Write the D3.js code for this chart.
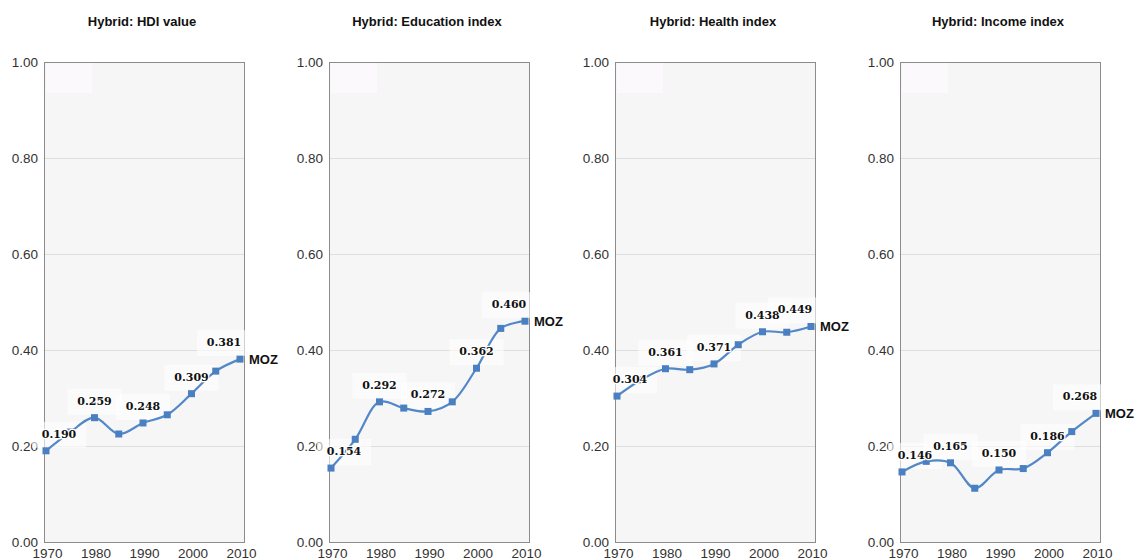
<!DOCTYPE html>
<html>
<head>
<meta charset="utf-8">
<script src="https://cdn.jsdelivr.net/npm/d3@7"></script>
<style>
  body { margin: 0; background: #fff; }
  svg { display: block; }
  .tick text { fill: #333; font-family: "Liberation Sans", Arial, sans-serif; }
</style>
</head>
<body>
<div id="chart"></div>
<script>
// values (every 5 years, 1970-2010)
var years = [1970, 1975, 1980, 1985, 1990, 1995, 2000, 2005, 2010]
var titles = ["Hybrid: HDI value", "Hybrid: Education index", "Hybrid: Health index", "Hybrid: Income index"]
var hdiValues = [0.190, 0.229, 0.259, 0.225, 0.248, 0.265, 0.309, 0.356, 0.381]
var educationValues = [0.154, 0.214, 0.292, 0.279, 0.272, 0.292, 0.362, 0.445, 0.460]
var healthValues = [0.304, 0.338, 0.361, 0.359, 0.371, 0.411, 0.438, 0.437, 0.449]
var incomeValues = [0.146, 0.168, 0.165, 0.112, 0.150, 0.153, 0.186, 0.230, 0.268]
var yTicks = [0, 0.2, 0.4, 0.6, 0.8, 1.0]
var xTicks = [1970, 1980, 1990, 2000, 2010]
var labelYears = [1970, 1980, 1990, 2000, 2010]
var country = "MOZ"

var series = [hdiValues, educationValues, healthValues, incomeValues]

var w = 1137, h = 560
var plotW = 200, plotTop = 62, plotBottom = 542
var firstLeft = 44, panelStep = 285.3

var svg = d3.select("#chart").append("svg")
    .attr("width", w)
    .attr("height", h)

var y = d3.scaleLinear().domain([0, 1]).range([plotBottom, plotTop])

series.forEach(function (values, i) {
    var left = Math.round(firstLeft + i * panelStep)
    var right = left + plotW
    var x = d3.scaleLinear().domain([1970, 2010]).range([left + 2, right - 4])
    var g = svg.append("g")

    //title
    g.append("text")
        .attr("x", left + plotW / 2 - 2)
        .attr("y", 26)
        .attr("text-anchor", "middle")
        .style("font-family", "Liberation Sans, Arial, sans-serif")
        .style("font-weight", "bold")
        .style("font-size", "13px")
        .style("fill", "#111")
        .text(titles[i])

    //plot background + border
    g.append("rect")
        .attr("x", left + 0.5)
        .attr("y", plotTop + 0.5)
        .attr("width", plotW)
        .attr("height", plotBottom - plotTop)
        .attr("fill", "#f6f6f6")
        .attr("stroke", "#8c8c8c")
        .attr("stroke-width", 1)

    //faint legend placeholder in the corner
    g.append("rect")
        .attr("x", left + 2)
        .attr("y", plotTop + 1)
        .attr("width", 46)
        .attr("height", 30)
        .attr("fill", "#fcf9fc")

    //grid lines
    g.selectAll("line.grid")
        .data(yTicks.slice(1, -1))
        .enter()
        .append("line")
        .attr("class", "grid")
        .attr("x1", left + 1)
        .attr("x2", right)
        .attr("y1", function (d) { return Math.round(y(d)) + 0.5 })
        .attr("y2", function (d) { return Math.round(y(d)) + 0.5 })
        .attr("stroke", "#dedede")
        .attr("stroke-width", 1)

    //y axis
    var yAxis = g.append("g")
        .attr("transform", "translate(" + (left - 6) + ",0)")
        .call(d3.axisLeft(y).tickValues(yTicks).tickSize(0).tickPadding(0).tickFormat(d3.format(".2f")))
    yAxis.select(".domain").remove()
    yAxis.selectAll("text").style("font-size", "13.5px")

    //x axis
    var xAxis = g.append("g")
        .attr("transform", "translate(1," + (plotBottom + 4) + ")")
        .call(d3.axisBottom(x).tickValues(xTicks).tickSize(0).tickPadding(2).tickFormat(d3.format("d")))
    xAxis.select(".domain").remove()
    xAxis.selectAll("text").style("font-size", "13.5px")

    var points = years.map(function (yr, j) { return { year: yr, value: values[j] } })

    //label placement, clamped inside the plot
    var tw = 34
    var labelPoints = points.filter(function (d) { return labelYears.indexOf(d.year) >= 0 })
    labelPoints.forEach(function (d) {
        var cx = x(d.year)
        cx = Math.max(cx, left - 2 + tw / 2)
        cx = Math.min(cx, right - 3 - tw / 2)
        d.lx = cx
        d.ly = y(d.value) - 13
    })

    //faint boxes behind the labels
    g.selectAll("rect.lbox")
        .data(labelPoints)
        .enter()
        .append("rect")
        .attr("class", "lbox")
        .attr("x", function (d) { return d.lx - tw / 2 - 10 })
        .attr("y", function (d) { return d.ly - 16 })
        .attr("width", tw + 20)
        .attr("height", 26)
        .attr("fill", "#ffffff")
        .attr("opacity", 0.6)

    //line
    var line = d3.line()
        .x(function (d) { return x(d.year) })
        .y(function (d) { return y(d.value) })
        .curve(d3.curveCatmullRom.alpha(0.5))

    g.append("path")
        .datum(points)
        .attr("d", line)
        .attr("fill", "none")
        .attr("stroke", "#5288c8")
        .attr("stroke-width", 2.2)

    //square markers
    g.selectAll("rect.marker")
        .data(points)
        .enter()
        .append("rect")
        .attr("class", "marker")
        .attr("x", function (d) { return x(d.year) - 3.5 })
        .attr("y", function (d) { return y(d.value) - 3.5 })
        .attr("width", 7)
        .attr("height", 7)
        .attr("fill", "#4a7fc2")

    //value labels, with a white halo so the line breaks under them
    g.selectAll("text.vlabel")
        .data(labelPoints)
        .enter()
        .append("text")
        .attr("class", "vlabel")
        .attr("x", function (d) { return d.lx })
        .attr("y", function (d) { return d.ly })
        .attr("text-anchor", "middle")
        .style("font-family", "DejaVu Serif, serif")
        .style("font-weight", "bold")
        .style("font-size", "11px")
        .style("fill", "#111")
        .style("stroke", "#fff")
        .style("stroke-width", 2.5)
        .style("stroke-linejoin", "round")
        .style("paint-order", "stroke")
        .text(function (d) { return d3.format(".3f")(d.value) })

    //country tag at the end of the line
    var last = points[points.length - 1]
    g.append("text")
        .attr("x", right + 5)
        .attr("y", y(last.value))
        .attr("dominant-baseline", "central")
        .style("font-family", "Liberation Sans, Arial, sans-serif")
        .style("font-weight", "bold")
        .style("font-size", "13px")
        .style("fill", "#111")
        .text(country)
})
</script>
</body>
</html>
